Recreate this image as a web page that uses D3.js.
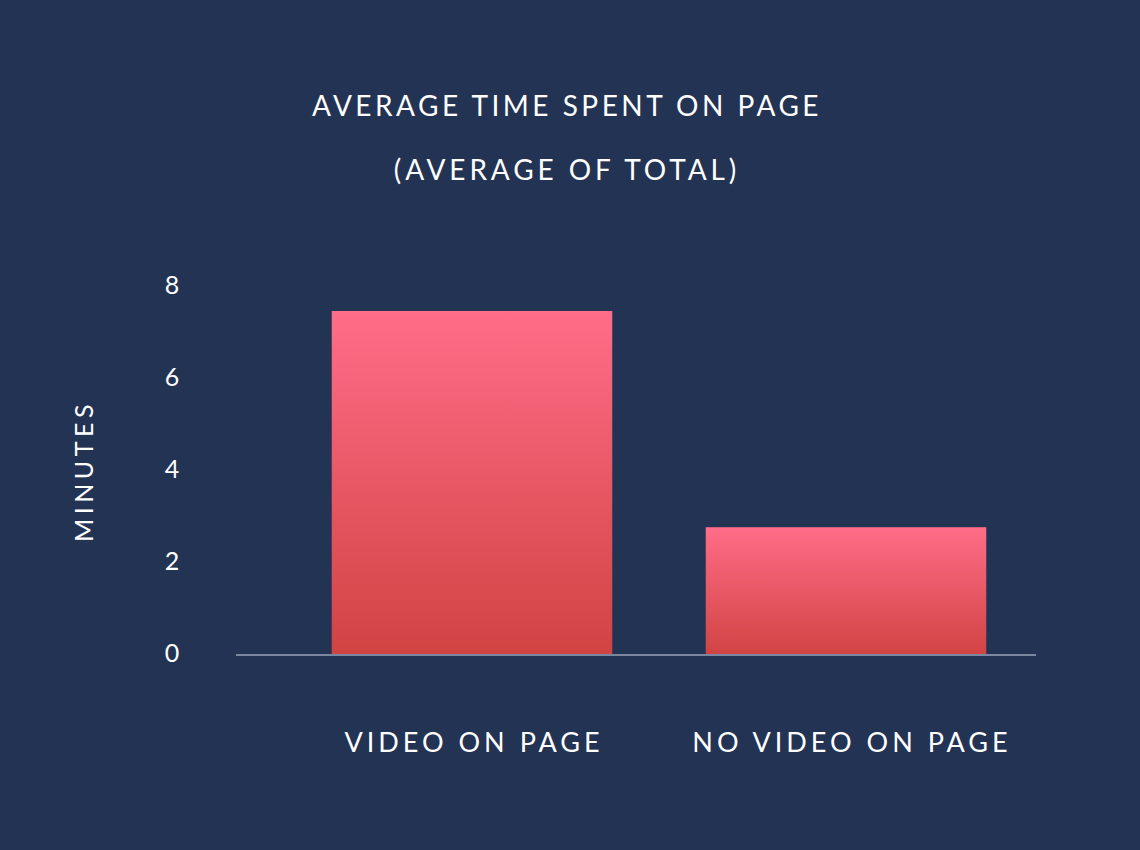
<!DOCTYPE html>
<html>
<head>
<meta charset="utf-8">
<script src="https://cdn.jsdelivr.net/npm/d3@7"></script>
<style>
  html, body { margin: 0; padding: 0; background: #233354; }
  svg { display: block; }
  text { font-family: Lato, 'Open Sans', sans-serif; fill: #ffffff; font-weight: 400; }
</style>
</head>
<body>
<div id="chart"></div>
<script>
const categories = ['VIDEO ON PAGE', 'NO VIDEO ON PAGE']
const minutes = [7.5, 2.8]
const yTicks = [0, 2, 4, 6, 8]
const titleLines = ['AVERAGE TIME SPENT ON PAGE', '(AVERAGE OF TOTAL)']
const yLabel = 'MINUTES'

const fullWidth = 1140,
  fullHeight = 850

const svg = d3.select('#chart')
  .append('svg')
    .attr('width', fullWidth)
    .attr('height', fullHeight)

svg.append('rect')
  .attr('width', fullWidth)
  .attr('height', fullHeight)
  .attr('fill', '#233354')

// gradient for the bars
const grad = svg.append('defs')
  .append('linearGradient')
    .attr('id', 'barGrad')
    .attr('x1', 0).attr('y1', 0)
    .attr('x2', 0).attr('y2', 1)
grad.append('stop').attr('offset', '0%').attr('stop-color', '#ff6d88')
grad.append('stop').attr('offset', '100%').attr('stop-color', '#d04342')

// titles
svg.selectAll('.title')
  .data(titleLines)
  .enter()
  .append('text')
    .attr('class', 'title')
    .attr('x', 567)
    .attr('y', (d, i) => 116 + i * 64)
    .attr('text-anchor', 'middle')
    .style('font-size', '28px')
    .style('letter-spacing', (d, i) => i ? '3.9px' : '3.5px')
    .text(d => d)

const xScale = d3.scaleBand()
  .domain(categories)
  .range([285, 1033])
  .paddingInner(0.25)
  .paddingOuter(0.125)

const yScale = d3.scaleLinear()
  .domain([0, 8])
  .range([656, 288])

// bars
svg.selectAll('.bar')
  .data(minutes)
  .enter()
  .append('rect')
    .attr('class', 'bar')
    .attr('x', (d, i) => xScale(categories[i]))
    .attr('width', xScale.bandwidth())
    .attr('y', d => yScale(d))
    .attr('height', d => yScale(0) - yScale(d))
    .attr('fill', 'url(#barGrad)')

// baseline
svg.append('line')
  .attr('x1', 236)
  .attr('x2', 1036)
  .attr('y1', yScale(0) - 1)
  .attr('y2', yScale(0) - 1)
  .style('stroke', '#7b879f')
  .style('stroke-width', 2)

// y axis (labels only)
const yAxis = svg.append('g')
  .attr('transform', 'translate(182, 0)')
  .call(d3.axisLeft(yScale).tickValues(yTicks).tickSize(0).tickPadding(0))
yAxis.select('.domain').remove()
yAxis.selectAll('text')
  .attr('x', -10)
  .attr('dy', '0.32em')
  .attr('transform', 'translate(0, -3)')
  .attr('text-anchor', 'middle')
  .style('font-family', 'Lato, sans-serif')
  .style('font-size', '25px')
  .style('fill', '#fff')

// x axis (labels only)
const xAxis = svg.append('g')
  .attr('transform', 'translate(0, 656)')
  .call(d3.axisBottom(xScale).tickSize(0).tickPadding(0))
xAxis.select('.domain').remove()
xAxis.selectAll('text')
  .attr('y', 96)
  .attr('dy', 0)
  .attr('dx', (d, i) => i ? 6 : 2)
  .style('font-family', 'Lato, sans-serif')
  .style('font-size', '27px')
  .style('letter-spacing', '4px')
  .style('fill', '#fff')

// y label
svg.append('text')
  .attr('transform', 'translate(93, 471) rotate(-90)')
  .attr('text-anchor', 'middle')
  .style('font-size', '25px')
  .style('letter-spacing', '4.5px')
  .text(yLabel)
</script>
</body>
</html>
